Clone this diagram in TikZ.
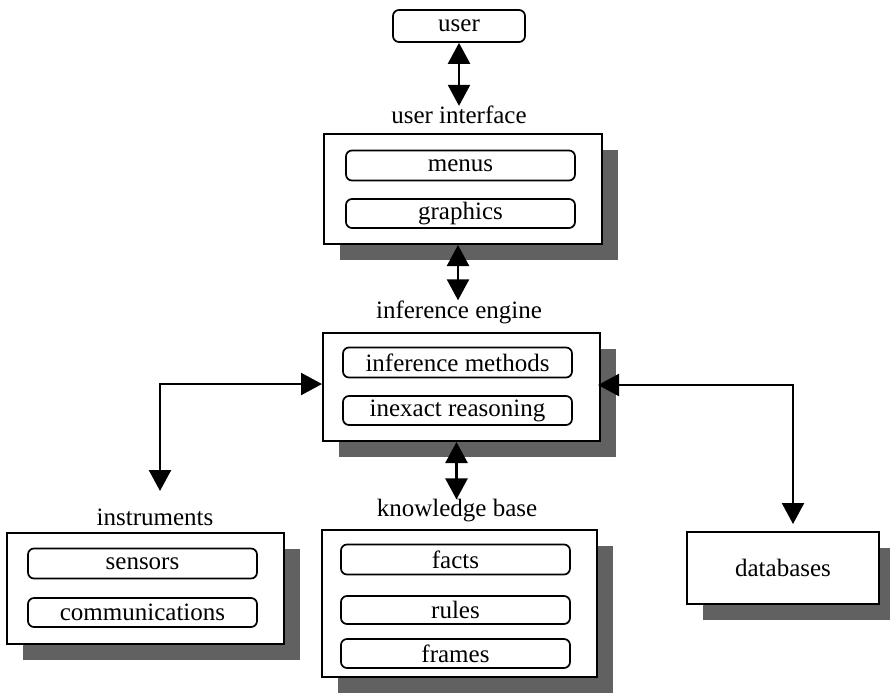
\documentclass[tikz,border=0pt]{standalone}
\usepackage{fontspec}
\setmainfont{Liberation Serif}
\usetikzlibrary{arrows.meta,shadows,calc}
\begin{document}
\begin{tikzpicture}[x=1pt,y=-1pt,
  every node/.style={font=\fontsize{25}{29}\selectfont, inner sep=0pt},
  panel/.style={draw, line width=2pt, fill=white,
    drop shadow={shadow xshift=16pt, shadow yshift=-16pt, fill=black!62, opacity=1}},
  item/.style={draw, line width=1.7pt, rounded corners=6pt, fill=white,
    minimum width=229pt, minimum height=30pt},
  caption/.style={},
  link/.style={line width=2.4pt, {Triangle[length=21pt,width=22pt]}-{Triangle[length=21pt,width=22pt]}}
]
\useasboundingbox (0,0) rectangle (890,694);

% top: user
\node[draw, line width=1.7pt, rounded corners=6pt, minimum width=132pt, minimum height=32pt] (user) at (459,26) {user};

% user interface
\node[caption] (uilbl) at (459,115) {user interface};
\node[panel, minimum width=278pt, minimum height=110pt] (ui) at (463,189) {};
\node[item] (menus) at (460.5,165.5) {menus};
\node[item, minimum height=29pt] (graphics) at (460.5,213.5) {graphics};

% inference engine
\node[caption] (ielbl) at (459,312) {inference engine};
\node[panel, minimum width=277pt, minimum height=108pt] (ie) at (461.5,387) {};
\node[item] (methods) at (457.5,362.5) {inference methods};
\node[item, minimum height=29pt] (inexact) at (457.5,410.5) {inexact reasoning};

% knowledge base
\node[caption] (kblbl) at (457,511) {knowledge base};
\node[panel, minimum width=275pt, minimum height=147pt] (kb) at (459.5,603.5) {};
\node[item] (facts) at (455.5,559.5) {facts};
\node[item, minimum height=28pt] (rules) at (455.5,610) {rules};
\node[item, minimum height=29pt] (frames) at (455.5,653.5) {frames};

% instruments
\node[caption] (instlbl) at (155,517) {instruments};
\node[panel, minimum width=277pt, minimum height=111pt] (inst) at (145.5,588.5) {};
\node[item] (sensors) at (142.5,563.5) {sensors};
\node[item, minimum height=29pt] (comms) at (142.5,612.5) {communications};

% databases
\node[panel, minimum width=192pt, minimum height=72pt] (db) at (783,568) {databases};

% connectors
\coordinate (lcorner) at (160,384);
\coordinate (ltip) at (160,491);
\coordinate (rcorner) at (793,385);

\draw[link] (user.south) -- (uilbl.north) ;
\draw[link] (ui.south) ++(-5,0) coordinate (uib) -- (uib |- ielbl.north);
\draw[link] (ie.south) ++(-5,0) coordinate (ieb) -- (ieb |- kblbl.north);
\draw[link] (ie.west |- lcorner) -- (lcorner) -- (ltip);
\draw[link, shorten <=-3pt] (ie.east |- rcorner) -- (rcorner) -- ([yshift=7pt]db.north -| rcorner);
\end{tikzpicture}
\end{document}
